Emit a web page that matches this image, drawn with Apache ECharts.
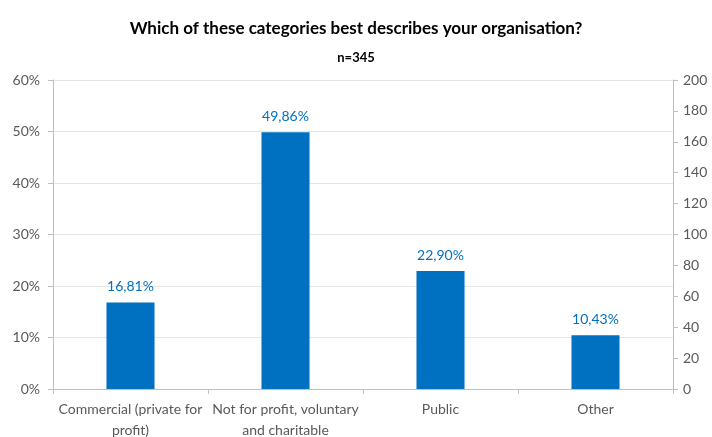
<!DOCTYPE html>
<html>
<head>
<meta charset="utf-8">
<script src="https://cdn.jsdelivr.net/npm/echarts@6/dist/echarts.min.js"></script>
<style>
  html, body { margin: 0; padding: 0; background: #fff; }
  #chart { width: 712px; height: 437px; }
</style>
</head>
<body>
<div id="chart"></div>
<script>
// Organisation type shares (percent of n=345 respondents)
const categories = ['Commercial (private for\nprofit)', 'Not for profit, voluntary\nand charitable', 'Public', 'Other'];
const shares = [16.81, 49.86, 22.90, 10.43];
const percentTicks = { min: 0, max: 60, interval: 10 };
const countTicks = { min: 0, max: 200, interval: 20 };

const FONT = 'Lato';
const GREY = '#595959';
const BLUE = '#0070C0';

const chart = echarts.init(document.getElementById('chart'), null, { renderer: 'canvas' });
chart.setOption({
  animation: false,
  textStyle: { fontFamily: FONT },
  title: [
    {
      text: 'Which of these categories best describes your organisation?',
      left: 'center', top: 15,
      textStyle: { fontFamily: FONT, fontSize: 17, fontWeight: 'bold', color: '#000' }
    },
    {
      text: 'n=345',
      left: 'center', top: 46,
      textStyle: { fontFamily: FONT, fontSize: 13, fontWeight: 'bold', color: '#000' }
    }
  ],
  grid: { left: 53, right: 39, top: 80, bottom: 48, outerBoundsMode: 'none' },
  xAxis: {
    type: 'category',
    data: categories,
    axisLine: { lineStyle: { color: '#BFBFBF' } },
    axisTick: { show: true, length: 5, lineStyle: { color: '#BFBFBF' } },
    axisLabel: { color: GREY, fontSize: 14, fontFamily: FONT, lineHeight: 21, margin: 10, interval: 0 }
  },
  yAxis: [
    {
      type: 'value',
      min: percentTicks.min, max: percentTicks.max, interval: percentTicks.interval,
      axisLine: { show: true, lineStyle: { color: '#BFBFBF' } },
      axisTick: { show: true, length: 5, lineStyle: { color: '#BFBFBF' } },
      axisLabel: { color: GREY, fontSize: 14, fontFamily: FONT, margin: 13, formatter: '{value}%' },
      splitLine: { lineStyle: { color: '#E5E5E5' } }
    },
    {
      type: 'value',
      position: 'right',
      min: countTicks.min, max: countTicks.max, interval: countTicks.interval,
      axisLine: { show: true, lineStyle: { color: '#BFBFBF' } },
      axisTick: { show: true, length: 5, lineStyle: { color: '#BFBFBF' } },
      axisLabel: { color: GREY, fontSize: 14, fontFamily: FONT, margin: 10 },
      splitLine: { show: false }
    }
  ],
  series: [
    {
      type: 'bar',
      yAxisIndex: 0,
      data: shares,
      barWidth: '31%',
      itemStyle: { color: BLUE },
      label: {
        show: true, position: 'top', distance: 9,
        color: BLUE, fontSize: 14, fontFamily: FONT,
        formatter: p => p.value.toFixed(2).replace('.', ',') + '%'
      }
    }
  ]
});
</script>
</body>
</html>
